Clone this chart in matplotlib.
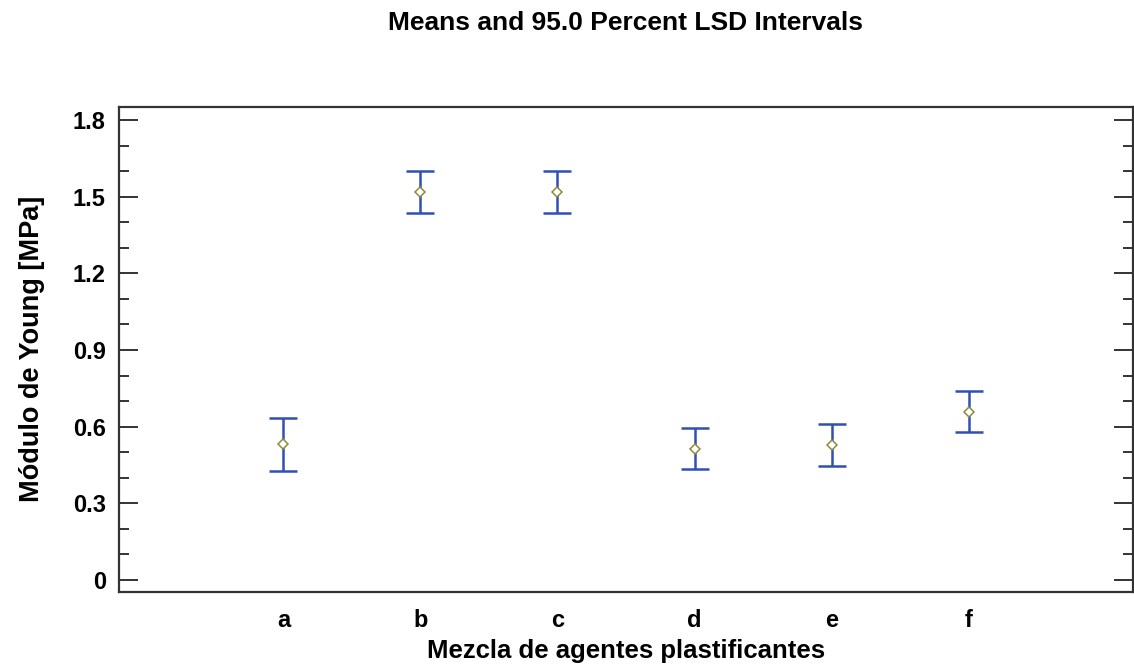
import numpy as np
import matplotlib
matplotlib.use("Agg")
from matplotlib import pyplot as plt
from matplotlib.ticker import MultipleLocator

groups = ['a', 'b', 'c', 'd', 'e', 'f']
means = [0.531, 1.518, 1.518, 0.514, 0.527, 0.659]
lower = [0.428, 1.437, 1.437, 0.433, 0.445, 0.578]
upper = [0.633, 1.600, 1.600, 0.596, 0.609, 0.741]

plt.rcParams['font.family'] = ['Liberation Sans', 'DejaVu Sans']
plt.rcParams['font.weight'] = 'bold'

fig = plt.figure(figsize=(11.34, 6.66), dpi=100)
ax = fig.add_axes([119/1134, 74/666, 1014/1134, 485.3/666])

x = np.arange(1, len(groups) + 1)
m = np.array(means)
yerr = [m - np.array(lower), np.array(upper) - m]

ax.errorbar(x, m, yerr=yerr, fmt='none', ecolor='#3050b4', elinewidth=1.8,
            capsize=10, capthick=1.8, zorder=2)
ax.plot(x, m, linestyle='none', marker='D', markersize=5.5,
        markerfacecolor='white', markeredgecolor='#8c8c3a', markeredgewidth=1.1, zorder=3)

ax.set_xlim(-0.2, 7.2)
ax.set_ylim(-0.047, 1.852)
ax.set_xticks(x)
ax.set_xticklabels(groups)
ax.yaxis.set_major_locator(MultipleLocator(0.3))
ax.yaxis.set_minor_locator(MultipleLocator(0.1))
ax.set_yticklabels(['0' if v == 0 else f'{v:.1f}' for v in ax.get_yticks()])

ax.tick_params(axis='x', length=0, labelsize=17, pad=12)
ax.tick_params(axis='y', which='major', direction='in', length=14, width=1.4,
               color='#333333', labelsize=17, pad=9.5, right=True)
ax.tick_params(axis='y', which='minor', direction='in', length=7, width=1.4,
               color='#333333', right=True)
for sp in ax.spines.values():
    sp.set_linewidth(1.6)
    sp.set_color('#333333')

ax.set_xlabel('Mezcla de agentes plastificantes', fontsize=18.5, fontweight='bold', labelpad=5)
ax.set_ylabel('Módulo de Young [MPa]', fontsize=19.5, fontweight='bold', labelpad=20)
fig.text(626/1134, 1 - 23/666, 'Means and 95.0 Percent LSD Intervals',
         ha='center', va='center', fontsize=19, fontweight='bold')

fig.savefig('out.png', dpi=100)
